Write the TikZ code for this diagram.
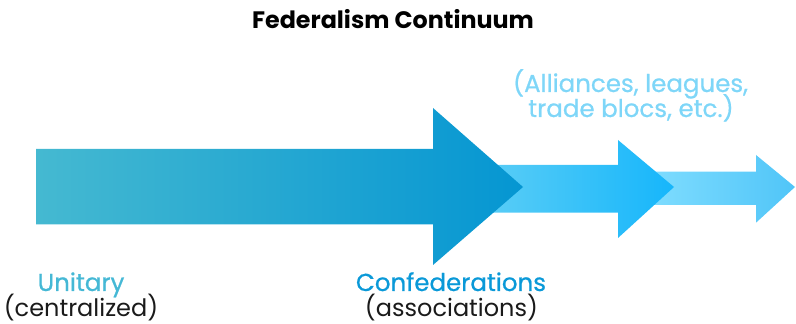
\documentclass[tikz,border=0pt]{standalone}
\usepackage{fontspec}
\setmainfont{Poppins}
\newfontfamily\medfont[FakeBold=0.7]{Poppins}
\definecolor{aOneL}{HTML}{45B9D1}
\definecolor{aOneR}{HTML}{0596D2}
\definecolor{aTwoL}{HTML}{5CCEF6}
\definecolor{aTwoR}{HTML}{16B6FB}
\definecolor{aThrL}{HTML}{82DEFF}
\definecolor{aThrR}{HTML}{50C5F8}
\definecolor{unitc}{HTML}{45B8D5}
\definecolor{confc}{HTML}{0A99D8}
\definecolor{allc}{HTML}{7ED6F8}
\definecolor{ink}{HTML}{1A1A1A}
\begin{document}
\begin{tikzpicture}[x=1pt,y=1pt,
  lbl/.style={inner sep=0pt,anchor=base,font=\fontsize{24}{26}\selectfont},
  medlbl/.style={lbl,font=\fontsize{24.5}{26}\selectfont\medfont},
  head/.style={lbl,font=\fontsize{23.8}{26}\selectfont\bfseries}]
\useasboundingbox (0,0) rectangle (796,324);
% arrow 3
\shade[left color=aThrL,right color=aThrR]
  (640,{324-171.7}) -- (756,{324-171.7}) -- (756,{324-155}) -- (795,{324-187})
  -- (756,{324-222.7}) -- (756,{324-205}) -- (640,{324-205}) -- cycle;
% arrow 2
\shade[left color=aTwoL,right color=aTwoR]
  (480,{324-165}) -- (618,{324-165}) -- (618,{324-140}) -- (674,{324-187})
  -- (618,{324-238}) -- (618,{324-212.7}) -- (480,{324-212.7}) -- cycle;
% arrow 1
\shade[left color=aOneL,right color=aOneR]
  (36,{324-149}) -- (433,{324-149}) -- (433,{324-108}) -- (523,{324-187})
  -- (433,{324-265}) -- (433,{324-224.5}) -- (36,{324-224.5}) -- cycle;
% texts
\node[head,text=black] (title) at (393,{324-29}) {Federalism Continuum};
\node[medlbl,text=allc] (alliesA) at (630.5,{324-92}) {(Alliances, leagues,};
\node[medlbl,text=allc] (alliesB) at (631,{324-117}) {trade blocs, etc.)};
\node[medlbl,text=unitc] (unit) at (81,{324-291}) {Unitary};
\node[lbl,text=ink] (cent) at (81,{324-317}) {(centralized)};
\node[medlbl,text=confc] (conf) at (451,{324-291}) {Confederations};
\node[lbl,text=ink] (assoc) at (451.5,{324-317}) {(associations)};
\end{tikzpicture}
\end{document}
